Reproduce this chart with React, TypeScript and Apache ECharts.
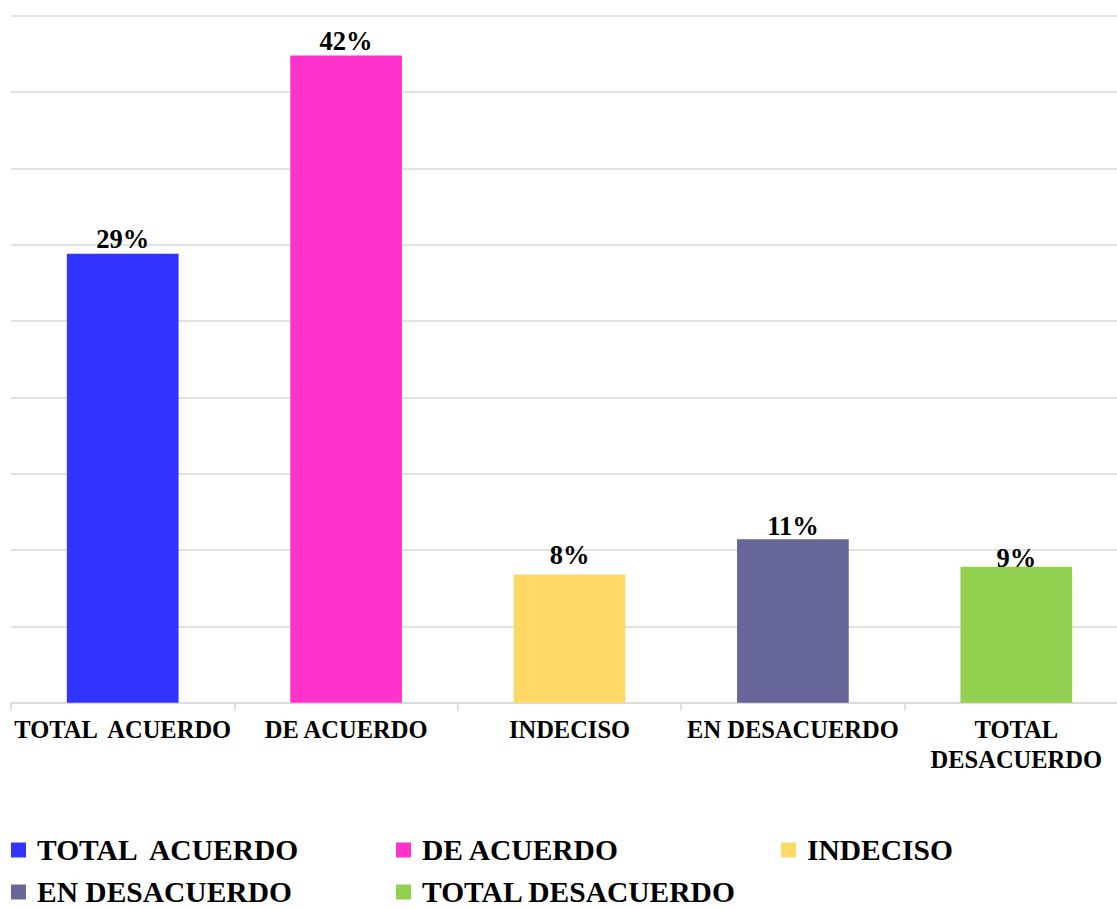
import React, { useEffect, useRef } from "react";
import * as echarts from "echarts";

const categories = ["TOTAL  ACUERDO", "DE ACUERDO", "INDECISO", "EN DESACUERDO", "TOTAL\nDESACUERDO"];
const seriesNames = ["TOTAL  ACUERDO", "DE ACUERDO", "INDECISO", "EN DESACUERDO", "TOTAL DESACUERDO"];
const values = [29.4, 42.4, 8.4, 10.7, 8.9];
const colors = ["#3333FF", "#FF33CC", "#FFD966", "#666699", "#92D050"];
const labelDistances = [1, 1, 6, 0, -5];
const legendPos = [
  { left: 11, top: 835 },
  { left: 396, top: 835 },
  { left: 781, top: 835 },
  { left: 11, top: 877 },
  { left: 396, top: 877 },
];

const FONT = '"Liberation Serif", "Times New Roman", serif';

export default function App() {
  const ref = useRef<HTMLDivElement>(null);
  useEffect(() => {
    if (!ref.current) return;
    const chart = echarts.init(ref.current, null, { renderer: "svg" });
    const series = seriesNames.map((name, i) => ({
      name,
      type: "bar",
      stack: "all",
      barWidth: "50%",
      data: values.map((v, j) => (j === i ? v : "-")),
      itemStyle: { color: colors[i] },
      label: {
        show: true,
        position: "top",
        distance: labelDistances[i],
        formatter: (p: any) => Math.round(p.value) + "%",
        fontFamily: FONT,
        fontWeight: "bold",
        fontSize: 26.5,
        color: "#000",
      },
    }));
    const legends = seriesNames.map((name, i) => ({
      show: true,
      left: legendPos[i].left,
      top: legendPos[i].top,
      orient: "horizontal",
      padding: 0,
      itemWidth: 15,
      itemHeight: 15,
      icon: "rect",
      selectedMode: false,
      data: [{ name, itemStyle: { color: colors[i] } }],
      textStyle: {
        fontFamily: FONT,
        fontWeight: "bold",
        fontSize: 29.5,
        lineHeight: 28,
        color: "#000",
        padding: [0, 0, 0, 6],
      },
    }));
    chart.setOption({
      animation: false,
      backgroundColor: "#fff",
      grid: {
        left: 11,
        width: 1117,
        top: 15.7,
        bottom: 206.3,
        containLabel: false,
        outerBoundsMode: "none",
      },
      legend: legends,
      xAxis: {
        type: "category",
        data: categories,
        axisLine: { lineStyle: { color: "#D9D9D9", width: 1.5 } },
        axisTick: { show: true, length: 8, lineStyle: { color: "#D9D9D9", width: 1.5 } },
        axisLabel: {
          interval: 0,
          margin: 12,
          fontFamily: FONT,
          fontWeight: "bold",
          fontSize: 24.5,
          lineHeight: 30,
          color: "#000",
        },
      },
      yAxis: {
        type: "value",
        min: 0,
        max: 45,
        interval: 5,
        axisLabel: { show: false },
        axisLine: { show: false },
        axisTick: { show: false },
        splitLine: { lineStyle: { color: "#D9D9D9", width: 1.5 } },
      },
      series,
    });
    return () => chart.dispose();
  }, []);
  return (
    <div
      ref={ref}
      style={{ position: "fixed", left: 0, top: 0, width: 1117, height: 909, background: "#fff" }}
    />
  );
}
